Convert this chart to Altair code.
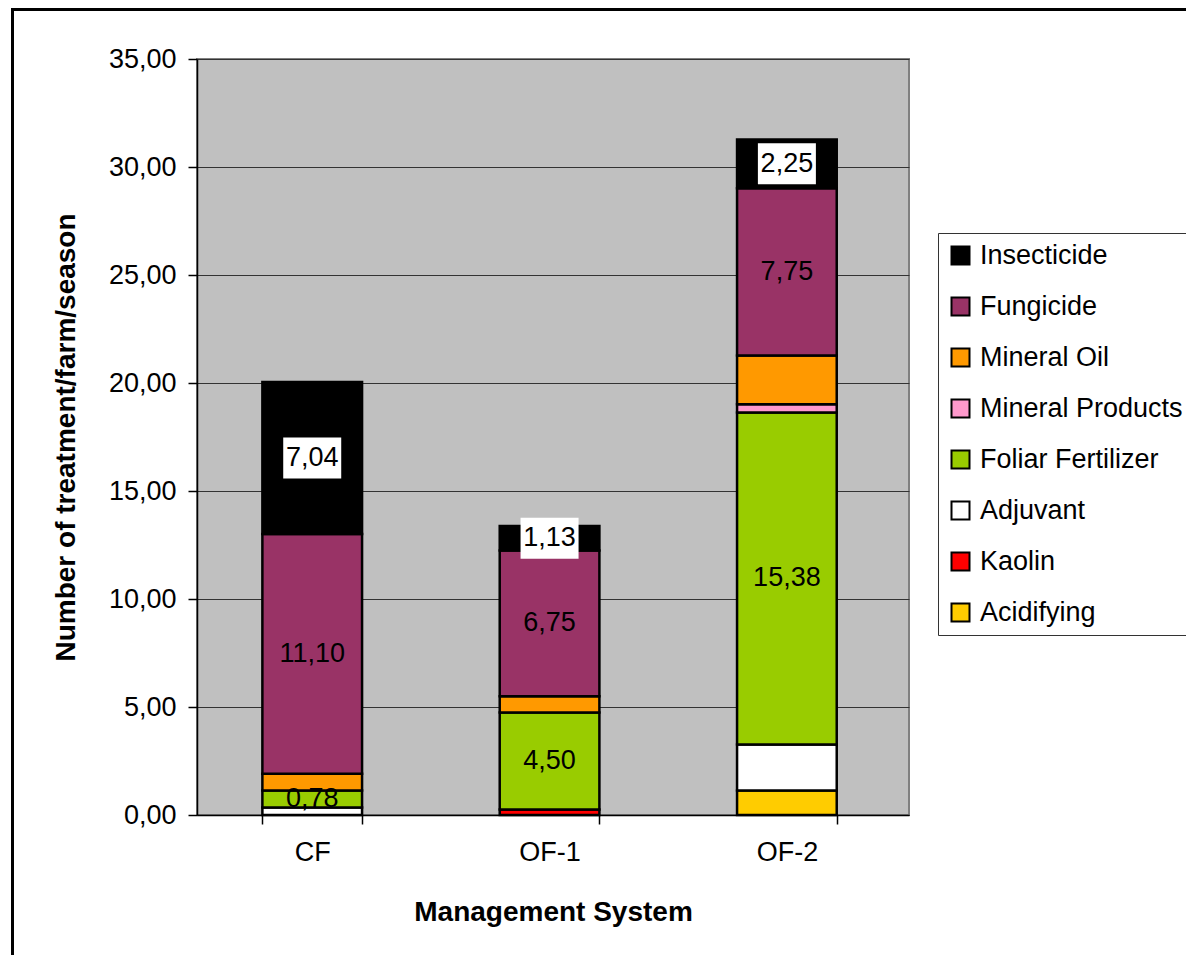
import altair as alt
import pandas as pd

# ---- data ----
categories = ["CF", "OF-1", "OF-2"]
products = ["Acidifying", "Kaolin", "Adjuvant", "Foliar Fertilizer",
            "Mineral Products", "Mineral Oil", "Fungicide", "Insecticide"]
acidifying = [0.00, 0.00, 1.13]
kaolin = [0.00, 0.25, 0.00]
adjuvant = [0.35, 0.00, 2.13]
foliar_fertilizer = [0.78, 4.50, 15.38]
mineral_products = [0.00, 0.00, 0.38]
mineral_oil = [0.78, 0.75, 2.25]
fungicide = [11.10, 6.75, 7.75]
insecticide = [7.04, 1.13, 2.25]
series_values = [acidifying, kaolin, adjuvant, foliar_fertilizer,
                 mineral_products, mineral_oil, fungicide, insecticide]
product_colors = ["#FFCC00", "#FF0000", "#FFFFFF", "#99CC00",
                  "#FF99CC", "#FF9900", "#993366", "#000000"]
labeled_series = ["Foliar Fertilizer", "Fungicide", "Insecticide"]
boxed_series = ["Insecticide"]
y_ticks = [0, 5, 10, 15, 20, 25, 30, 35]

legend_order = list(reversed(products))
legend_colors = list(reversed(product_colors))

rows = []
for k, (p, vals) in enumerate(zip(products, series_values)):
    for c, v in zip(categories, vals):
        rows.append({"cat": c, "product": p, "value": v, "ord": k,
                     "label": f"{v:.2f}".replace(".", ",")})
df = pd.DataFrame(rows)

FONT = "Liberation Sans"
Y_TITLE = "Number of treatment/farm/season"
X_TITLE = "Management System"

xscale = alt.Scale(paddingInner=0.58, paddingOuter=0.29, align=0.475)
xenc = alt.X("cat:N", sort=categories, title=X_TITLE, scale=xscale)

base = alt.Chart(df).transform_filter("datum.value > 0")

bars = base.mark_bar(stroke="black", strokeWidth=2.5).encode(
    x=alt.X("cat:N", sort=categories, title=X_TITLE, scale=xscale,
            axis=alt.Axis(labelAngle=0, tickBand="extent", grid=False,
                          labelPadding=15, titlePadding=33)),
    y=alt.Y("value:Q", stack="zero", title=Y_TITLE,
            scale=alt.Scale(domain=[0, 35], nice=False, zero=True),
            axis=alt.Axis(values=y_ticks,
                          labelExpr="replace(format(datum.value, '.2f'), '.', ',')",
                          labelPadding=12, titlePadding=28)),
    color=alt.Color("product:N",
                    scale=alt.Scale(domain=legend_order, range=legend_colors),
                    legend=alt.Legend(title=None, orient="none", legendX=741, legendY=174,
                                      direction="vertical", symbolType="square",
                                      symbolSize=324, symbolStrokeColor="black",
                                      symbolStrokeWidth=2, labelFontSize=27,
                                      labelFont=FONT, labelColor="black",
                                      labelLimit=500, rowPadding=23, padding=9,
                                      strokeColor="#333333", fillColor="white",
                                      labelOffset=6, offset=0)),
    order=alt.Order("ord:Q", sort="ascending"),
)

stacked = base.transform_stack(
    stack="value", groupby=["cat"], sort=[alt.SortField("ord", "ascending")],
    as_=["y0", "y1"]
).transform_calculate(mid="(datum.y0 + datum.y1) / 2")

boxes = stacked.transform_filter(
    alt.FieldOneOfPredicate(field="product", oneOf=boxed_series)
).mark_point(shape="M-1,-0.707L1,-0.707L1,0.707L-1,0.707Z", size=3364,
             filled=True, fill="white", opacity=1, strokeWidth=0).encode(
    x=xenc,
    y=alt.Y("mid:Q", title=Y_TITLE),
)

labels = stacked.transform_filter(
    alt.FieldOneOfPredicate(field="product", oneOf=labeled_series)
).mark_text(font=FONT, fontSize=27, color="black", baseline="middle").encode(
    x=xenc,
    y=alt.Y("mid:Q", title=Y_TITLE),
    text="label:N",
)

frame = alt.Chart(alt.Data(values=[{"f": 1}])).mark_rect(
    filled=False, stroke="black", strokeWidth=3
).encode(x=alt.value(-184.5), x2=alt.value(1400), y=alt.value(-49.5), y2=alt.value(1200))

chart = alt.layer(frame, bars, boxes, labels).properties(
    width=712, height=756,
    autosize=alt.AutoSizeParams(type="none"),
    padding={"left": 189, "top": 51, "right": 277, "bottom": 140},
    background="white",
).configure_view(
    fill="#C0C0C0", stroke="#808080", strokeWidth=2
).configure_axis(
    labelFont=FONT, labelFontSize=27, labelColor="black",
    titleFont=FONT, titleFontSize=28, titleFontWeight="bold", titleColor="black",
    domainColor="black", domainWidth=1.5, tickColor="black", tickSize=9, tickWidth=1.5,
    gridColor="#333333", gridWidth=1,
)

chart.save("out.html", embed_options={"renderer": "svg", "actions": False})
